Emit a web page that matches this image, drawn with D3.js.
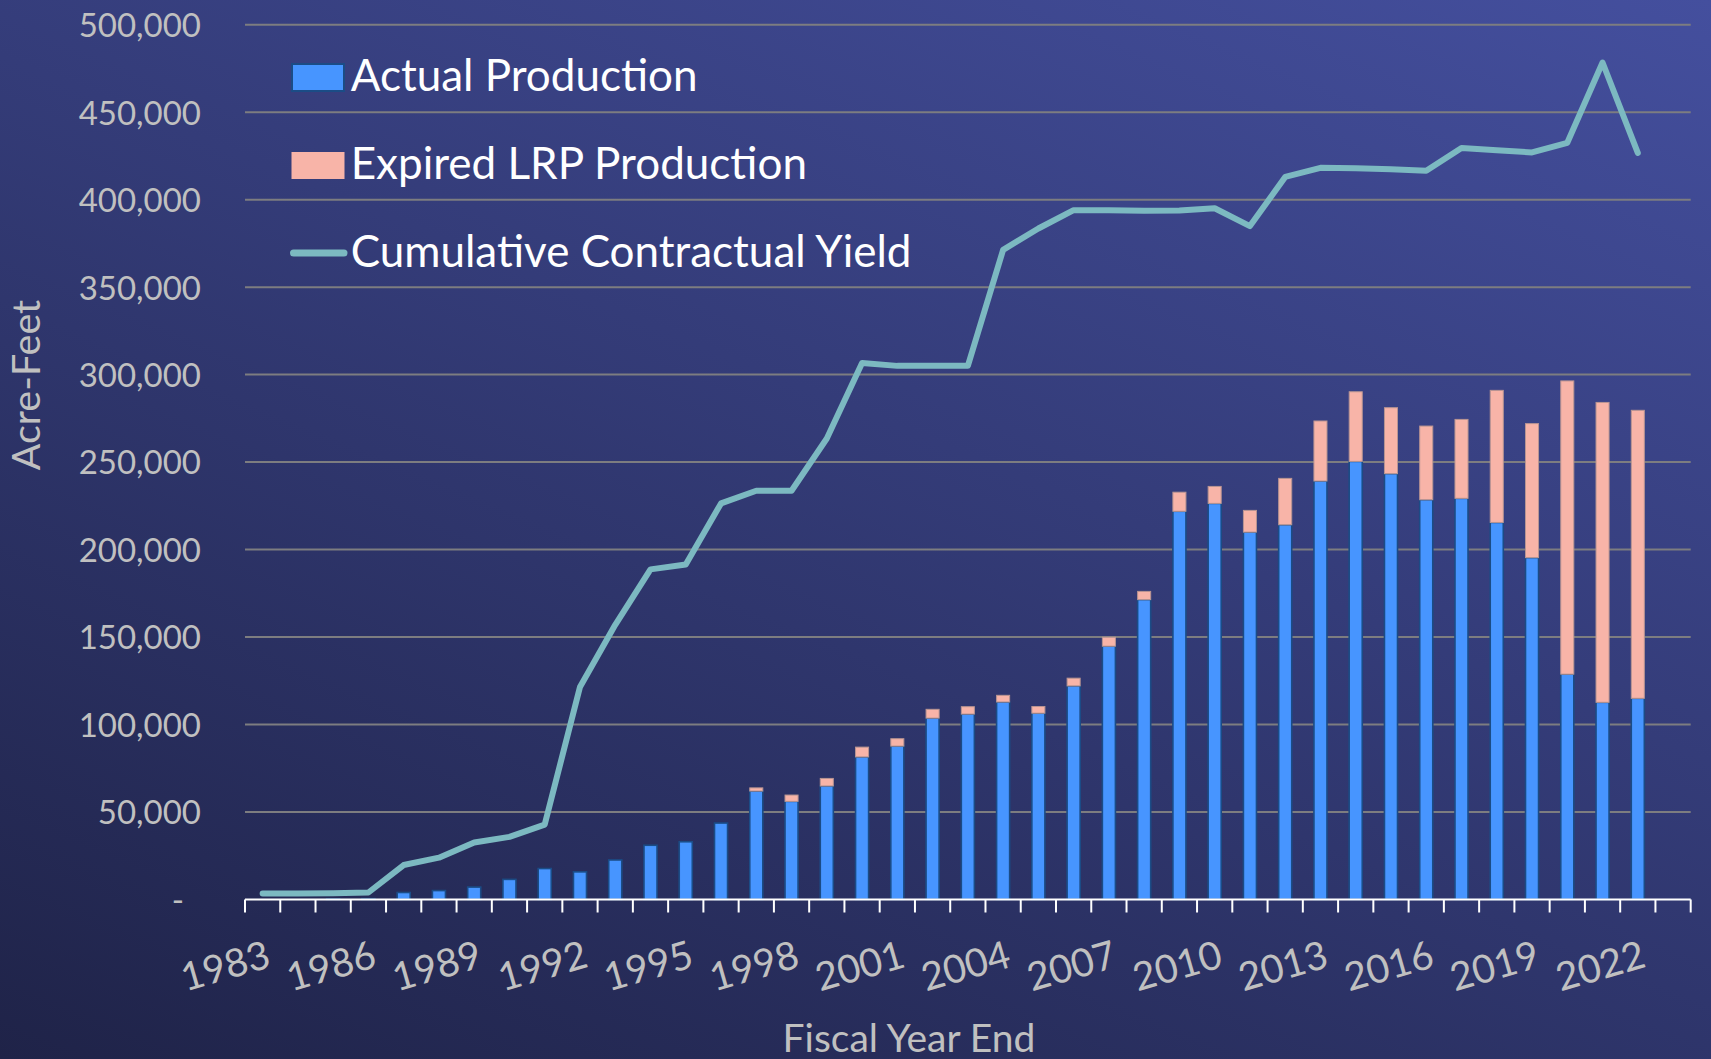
<!DOCTYPE html>
<html><head><meta charset="utf-8">
<script src="https://cdn.jsdelivr.net/npm/d3@7"></script>
<style>html,body{margin:0;padding:0;overflow:hidden;background:#2a3060}svg{display:block}</style>
</head><body><svg id="c" width="1711" height="1059"></svg>
<script>
// ---------------- data ----------------
const years = [1983,1984,1985,1986,1987,1988,1989,1990,1991,1992,1993,1994,1995,1996,1997,1998,1999,2000,2001,2002,2003,2004,2005,2006,2007,2008,2009,2010,2011,2012,2013,2014,2015,2016,2017,2018,2019,2020,2021,2022,2023];
const actualProduction = [0,0,400,500,4000,5100,7100,11500,17700,15800,22600,31000,33000,43700,62000,56100,64900,81500,87700,103700,106000,112900,106500,122100,144800,171400,221900,226400,210000,214200,239200,250400,243400,228500,229300,215500,195400,128800,112700,115000,null];
const expiredLRP = [0,0,0,0,0,0,0,0,0,0,0,0,0,0,1800,3600,4300,5600,4200,5000,4200,3800,3800,4400,5100,4700,10900,9700,12400,26500,34300,39800,37700,42100,45100,75500,76600,167600,171400,164600,null];
const cumulativeYield = [3500,3500,3600,4000,19700,23900,32600,35800,42800,121500,157000,188700,191500,226400,233600,233600,263500,306700,305000,305000,305000,371300,383500,394000,394000,393600,393800,395100,384900,413000,418200,418000,417400,416500,429500,428200,427000,432500,478400,426700,null];
const yTickValues = [0,50000,100000,150000,200000,250000,300000,350000,400000,450000,500000];
const xTickLabels = [1983,1986,1989,1992,1995,1998,2001,2004,2007,2010,2013,2016,2019,2022];
const seriesNames = ["Actual Production","Expired LRP Production","Cumulative Contractual Yield"];
const axisTitles = {x:"Fiscal Year End", y:"Acre-Feet"};

// ---------------- layout ----------------
const W = 1711, H = 1059;
const plot = {left:245, right:1690.7, top:24.7, bottom:899.5};
const FONT = "Lato, 'Open Sans', sans-serif";
const colors = {blue:"#4795ff", blueStroke:"#1b4c86", pink:"#f8b4a8", pinkStroke:"#b99592",
  line:"#7cb9c1", grid:"#7d7d80", axis:"#ffffff", label:"#c0c0c0", legend:"#ffffff"};

const svg = d3.select("#c");
const defs = svg.append("defs");
const bg = defs.append("linearGradient").attr("id","bg")
  .attr("gradientUnits","userSpaceOnUse")
  .attr("x1",1711).attr("y1",0).attr("x2",1089).attr("y2",1508);
bg.append("stop").attr("offset",0).attr("stop-color","#444f9e");
bg.append("stop").attr("offset",1).attr("stop-color","#1f2348");
svg.append("rect").attr("width",W).attr("height",H).attr("fill","url(#bg)");

const x = d3.scaleBand().domain(years).range([plot.left, plot.right])
  .paddingInner(0.63).paddingOuter(0.315);
const y = d3.scaleLinear().domain([0,500000]).range([plot.bottom, plot.top]);

// gridlines
svg.append("g").selectAll("line").data(yTickValues.filter(v=>v>0)).join("line")
  .attr("x1",plot.left).attr("x2",plot.right)
  .attr("y1",d=>y(d)).attr("y2",d=>y(d))
  .attr("stroke",colors.grid).attr("stroke-width",2);

// y axis labels
const yAxis = svg.append("g").attr("transform",`translate(201,0)`)
  .call(d3.axisLeft(y).tickValues(yTickValues).tickSize(0).tickPadding(0)
    .tickFormat(d=> d===0 ? "-" : d3.format(",")(d)));
yAxis.select(".domain").remove();
yAxis.selectAll("text").attr("font-family",FONT).attr("font-size",33)
  .attr("fill",colors.label).attr("dy","0.36em")
  .attr("x",d=> d===0 ? -17 : 0);

// stacked bars
const table = years.map((yr,i)=>({year:yr, actual:actualProduction[i]||0, expired:expiredLRP[i]||0}));
const stack = d3.stack().keys(["actual","expired"])(table);
const fills = {actual:colors.blue, expired:colors.pink};
const strokes = {actual:colors.blueStroke, expired:colors.pinkStroke};
svg.append("g").selectAll("g").data(stack).join("g")
  .attr("fill",s=>fills[s.key]).attr("stroke",s=>strokes[s.key])
  .attr("stroke-width",s=>s.key==="actual"?1.6:1)
  .selectAll("rect").data(s=>s.filter(d=>d[1]-d[0]>0)).join("rect")
  .attr("x",d=>x(d.data.year)).attr("width",x.bandwidth())
  .attr("y",d=>y(d[1])).attr("height",d=>y(d[0])-y(d[1]));

// x axis line + boundary ticks
const gx = svg.append("g");
gx.append("line").attr("x1",plot.left).attr("x2",plot.right)
  .attr("y1",plot.bottom).attr("y2",plot.bottom)
  .attr("stroke",colors.axis).attr("stroke-width",2);
const gap = (x.step()-x.bandwidth())/2;
const bounds = years.map(yr=>x(yr)-gap).concat([plot.right]);
gx.selectAll("line.tk").data(bounds).join("line").attr("class","tk")
  .attr("x1",d=>d).attr("x2",d=>d).attr("y1",plot.bottom).attr("y2",plot.bottom+13)
  .attr("stroke",colors.axis).attr("stroke-width",2);

// x tick labels via axis
const xAxis = svg.append("g").attr("transform",`translate(0,${plot.bottom})`)
  .call(d3.axisBottom(x).tickValues(xTickLabels).tickSize(0).tickPadding(0));
xAxis.select(".domain").remove();
xAxis.selectAll("text").attr("font-family",FONT).attr("font-size",39)
  .attr("fill",colors.label).attr("text-anchor","end")
  .attr("y",0).attr("dy","0.72em")
  .attr("transform","translate(2,40) rotate(-16)");

// cumulative line
const line = d3.line().defined(d=>d.v!=null)
  .x(d=>x(d.year)+x.bandwidth()/2).y(d=>y(d.v));
svg.append("path").datum(years.map((yr,i)=>({year:yr, v:cumulativeYield[i]})))
  .attr("d",line).attr("fill","none").attr("stroke",colors.line)
  .attr("stroke-width",6).attr("stroke-linejoin","round").attr("stroke-linecap","round");

// legend
const lg = svg.append("g");
lg.append("rect").attr("x",292).attr("y",64).attr("width",52).attr("height",27)
  .attr("fill",colors.blue).attr("stroke",colors.blueStroke).attr("stroke-width",2);
lg.append("rect").attr("x",291.5).attr("y",152).attr("width",53).attr("height",27)
  .attr("fill",colors.pink);
lg.append("line").attr("x1",293.5).attr("x2",344).attr("y1",253).attr("y2",253)
  .attr("stroke",colors.line).attr("stroke-width",7).attr("stroke-linecap","round");
lg.selectAll("text").data(seriesNames).join("text")
  .attr("x",350.7).attr("y",(d,i)=>[91,179,267][i])
  .attr("font-family",FONT).attr("font-size",44).attr("fill",colors.legend)
  .text(d=>d);

// axis titles
svg.append("text").attr("x",909).attr("y",1052).attr("text-anchor","middle")
  .attr("font-family",FONT).attr("font-size",39).attr("fill",colors.label)
  .text(axisTitles.x);
svg.append("text").attr("transform","translate(40,385) rotate(-90)")
  .attr("text-anchor","middle")
  .attr("font-family",FONT).attr("font-size",39.5).attr("fill",colors.label)
  .text(axisTitles.y);
</script>
</body></html>
